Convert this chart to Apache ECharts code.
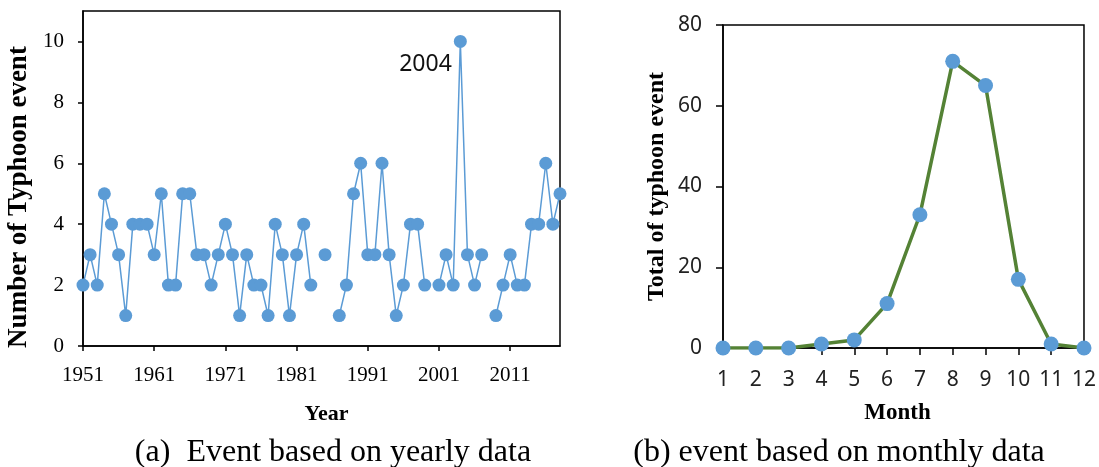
<!DOCTYPE html>
<html>
<head>
<meta charset="utf-8">
<script src="https://cdn.jsdelivr.net/npm/echarts@6/dist/echarts.min.js"></script>
<style>
  html, body { margin: 0; padding: 0; background: #fff; }
  #main { width: 1099px; height: 467px; }
</style>
</head>
<body>
<div id="main"></div>
<script>
// yearly counts, 1951 - 2018 (null = no point plotted)
const years = [
  1951, 1952, 1953, 1954, 1955, 1956, 1957, 1958, 1959, 1960,
  1961, 1962, 1963, 1964, 1965, 1966, 1967, 1968, 1969, 1970,
  1971, 1972, 1973, 1974, 1975, 1976, 1977, 1978, 1979, 1980,
  1981, 1982, 1983, 1984, 1985, 1986, 1987, 1988, 1989, 1990,
  1991, 1992, 1993, 1994, 1995, 1996, 1997, 1998, 1999, 2000,
  2001, 2002, 2003, 2004, 2005, 2006, 2007, 2008, 2009, 2010,
  2011, 2012, 2013, 2014, 2015, 2016, 2017, 2018
];
const yearlyEvents = [
  2, 3, 2, 5, 4, 3, 1, 4, 4, 4,
  3, 5, 2, 2, 5, 5, 3, 3, 2, 3,
  4, 3, 1, 3, 2, 2, 1, 4, 3, 1,
  3, 4, 2, null, 3, null, 1, 2, 5, 6,
  3, 3, 6, 3, 1, 2, 4, 4, 2, null,
  2, 3, 2, 10, 3, 2, 3, null, 1, 2,
  3, 2, 2, 4, 4, 6, 4, 5
];
const yearlyYTicks = [0, 2, 4, 6, 8, 10];
const highlightYear = 2004;

// monthly totals
const months = ['1', '2', '3', '4', '5', '6', '7', '8', '9', '10', '11', '12'];
const monthlyEvents = [0, 0, 0, 1, 2, 11, 33, 71, 65, 17, 1, 0];

const chart = echarts.init(document.getElementById('main'), null, { renderer: 'canvas' });

const serif = 'Liberation Serif';
const sans = 'Noto Sans';
const blue = '#5b9bd5';
const green = '#548235';

const yearlyData = yearlyEvents.map(function (v, i) {
  if (years[i] === highlightYear) {
    return {
      value: v,
      label: {
        show: true,
        position: 'left',
        distance: 2,
        offset: [0, 23],
        formatter: String(highlightYear),
        fontFamily: sans,
        fontSize: 23,
        color: '#111'
      }
    };
  }
  return v;
});

const option = {
  backgroundColor: '#fff',
  animation: false,
  title: [
    {
      text: '(a)  Event based on yearly data',
      left: 328, top: 432, textAlign: 'center',
      textStyle: { fontFamily: serif, fontSize: 32, fontWeight: 'normal', color: '#000' }
    },
    {
      text: '(b) event based on monthly data',
      left: 834, top: 432, textAlign: 'center',
      textStyle: { fontFamily: serif, fontSize: 32, fontWeight: 'normal', color: '#000' }
    }
  ],
  grid: [
    { left: 83, top: 11, width: 477, height: 335, show: true, borderColor: '#000', borderWidth: 1.5, containLabel: false },
    { left: 723, top: 25, width: 362, height: 323, show: true, borderColor: '#000', borderWidth: 1.5, containLabel: false }
  ],
  xAxis: [
    {
      gridIndex: 0,
      type: 'category',
      data: years,
      boundaryGap: false,
      name: 'Year',
      nameLocation: 'middle',
      nameGap: 57,
      nameTextStyle: { fontFamily: serif, fontSize: 22, fontWeight: 'bold', color: '#000', padding: [0, 0, 0, 10] },
      axisLine: { lineStyle: { color: '#000', width: 1.5 } },
      axisTick: { show: true, interval: 9, inside: false, length: 5, lineStyle: { color: '#000', width: 1.5 } },
      axisLabel: { interval: 9, margin: 19, fontFamily: serif, fontSize: 21, color: '#000' },
      splitLine: { show: false }
    },
    {
      gridIndex: 1,
      type: 'category',
      data: months,
      boundaryGap: false,
      name: 'Month',
      nameLocation: 'middle',
      nameGap: 54,
      nameTextStyle: { fontFamily: serif, fontSize: 23, fontWeight: 'bold', color: '#000', padding: [0, 12, 0, 0] },
      axisLine: { lineStyle: { color: '#000', width: 1.5 } },
      axisTick: { show: true, interval: 0, length: 7, lineStyle: { color: '#000', width: 1.5 } },
      axisLabel: { interval: 0, margin: 22, fontFamily: sans, fontSize: 21, color: '#222' },
      splitLine: { show: false }
    }
  ],
  yAxis: [
    {
      gridIndex: 0,
      type: 'value',
      min: 0,
      max: 11,
      name: 'Number of Typhoon event',
      nameLocation: 'middle',
      nameGap: 50,
      nameTextStyle: { fontFamily: serif, fontSize: 27, fontWeight: 'bold', color: '#000', padding: [0, 37, 0, 0] },
      axisLine: { show: true, lineStyle: { color: '#000', width: 1.5 } },
      axisTick: { show: true, length: 5, customValues: yearlyYTicks, lineStyle: { color: '#000', width: 1.5 } },
      axisLabel: { customValues: yearlyYTicks, margin: 19, fontFamily: serif, fontSize: 21, color: '#000' },
      splitLine: { show: false }
    },
    {
      gridIndex: 1,
      type: 'value',
      min: 0,
      max: 80,
      interval: 20,
      name: 'Total of typhoon event',
      nameLocation: 'middle',
      nameGap: 54,
      nameTextStyle: { fontFamily: serif, fontSize: 24, fontWeight: 'bold', color: '#000' },
      axisLine: { show: true, lineStyle: { color: '#000', width: 1.5 } },
      axisTick: { show: true, length: 7, lineStyle: { color: '#000', width: 1.5 } },
      axisLabel: { margin: 21, fontFamily: sans, fontSize: 21, color: '#222' },
      splitLine: { show: false }
    }
  ],
  series: [
    {
      type: 'line',
      xAxisIndex: 0,
      yAxisIndex: 0,
      data: yearlyData,
      connectNulls: false,
      symbol: 'circle',
      symbolSize: 13,
      showSymbol: true,
      showAllSymbol: true,
      lineStyle: { color: blue, width: 1.5 },
      itemStyle: { color: blue },
      z: 3
    },
    {
      type: 'line',
      xAxisIndex: 1,
      yAxisIndex: 1,
      data: monthlyEvents,
      symbol: 'circle',
      symbolSize: 15,
      showAllSymbol: true,
      lineStyle: { color: green, width: 3.5 },
      itemStyle: { color: blue },
      z: 3
    }
  ]
};

chart.setOption(option);
</script>
</body>
</html>
